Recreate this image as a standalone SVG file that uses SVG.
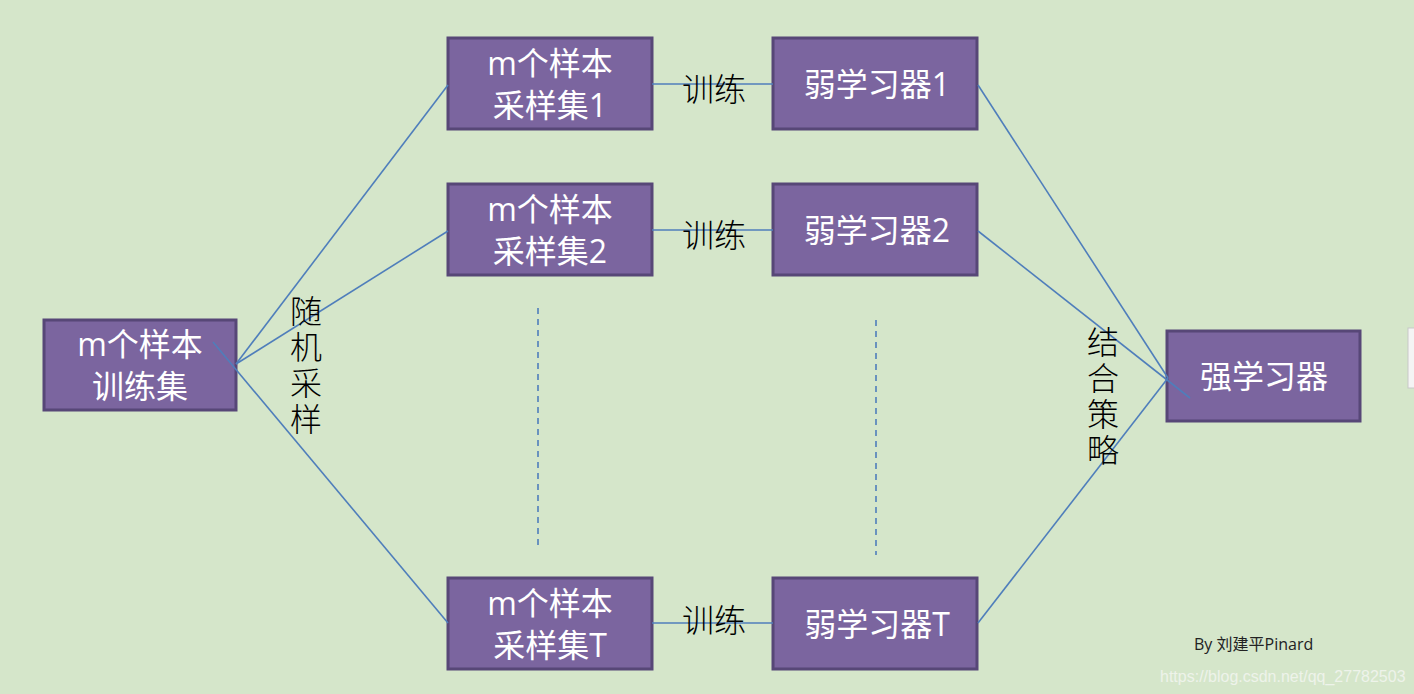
<svg xmlns="http://www.w3.org/2000/svg" width="1414" height="694" viewBox="0 0 1414 694">
<style>
.n{fill:#7b659f;stroke:#574777;stroke-width:3}
.t{fill:#fff;font-family:"Open Sans","Noto Sans CJK SC",sans-serif;font-size:32px;text-anchor:middle}
.l{fill:#000;font-family:"Noto Sans CJK SC",serif;font-weight:300;font-size:32px;text-anchor:middle}
.v{fill:#000;font-family:"Noto Sans CJK SC",serif;font-weight:300;font-size:32px;writing-mode:vertical-rl;letter-spacing:4px}
.c line{stroke:#4f7ebb;stroke-width:1.6}
</style>
<rect width="1414" height="694" fill="#d5e6ca"/>
<rect x="1408" y="328" width="10" height="60" fill="#f4f4f4" stroke="#c8c8c8"/>
<g id="train"><rect class="n" x="44" y="320" width="192" height="90"/><text class="t" x="140" y="356">m个样本</text><text class="t" x="140" y="398">训练集</text></g>
<g id="s1"><rect class="n" x="448" y="38" width="204" height="91"/><text class="t" x="550" y="75">m个样本</text><text class="t" x="550" y="117">采样集1</text></g>
<g id="s2"><rect class="n" x="448" y="184" width="204" height="91"/><text class="t" x="550" y="221">m个样本</text><text class="t" x="550" y="263">采样集2</text></g>
<g id="sT"><rect class="n" x="448" y="578" width="204" height="91"/><text class="t" x="550" y="615">m个样本</text><text class="t" x="550" y="657">采样集T</text></g>
<g id="w1"><rect class="n" x="773" y="38" width="204" height="91"/><text class="t" x="877" y="96">弱学习器1</text></g>
<g id="w2"><rect class="n" x="773" y="184" width="204" height="91"/><text class="t" x="877" y="242">弱学习器2</text></g>
<g id="wT"><rect class="n" x="773" y="578" width="204" height="91"/><text class="t" x="877" y="636">弱学习器T</text></g>
<g id="strong"><rect class="n" x="1167" y="331" width="193" height="90"/><text class="t" x="1264" y="388">强学习器</text></g>
<g class="c">
<line x1="236" y1="364" x2="448" y2="85"/>
<line x1="236" y1="364" x2="448" y2="231"/>
<line x1="213" y1="342" x2="448" y2="623"/>
<line x1="652" y1="84" x2="773" y2="84"/>
<line x1="652" y1="230" x2="773" y2="230"/>
<line x1="652" y1="623" x2="773" y2="623"/>
<line x1="978" y1="85" x2="1168" y2="378"/>
<line x1="978" y1="231" x2="1190" y2="398"/>
<line x1="978" y1="623" x2="1168" y2="378"/>
<line x1="538" y1="308" x2="538" y2="545" stroke-dasharray="6,5"/>
<line x1="876" y1="320" x2="876" y2="555" stroke-dasharray="6,5"/>
</g>
<g id="labels">
<text class="l" x="714" y="101">训练</text>
<text class="l" x="714" y="247">训练</text>
<text class="l" x="714" y="632">训练</text>
<text class="v" x="306" y="295">随机采样</text>
<text class="v" x="1103" y="326">结合策略</text>
<text x="1194" y="650" font-family="'Open Sans','Noto Sans CJK SC',sans-serif" font-size="16" fill="#222">By 刘建平Pinard</text>
<text x="1160" y="682" font-family="'Liberation Sans',sans-serif" font-size="16" fill="#eef3ea">https://blog.csdn.net/qq_27782503</text>
</g>
</svg>
